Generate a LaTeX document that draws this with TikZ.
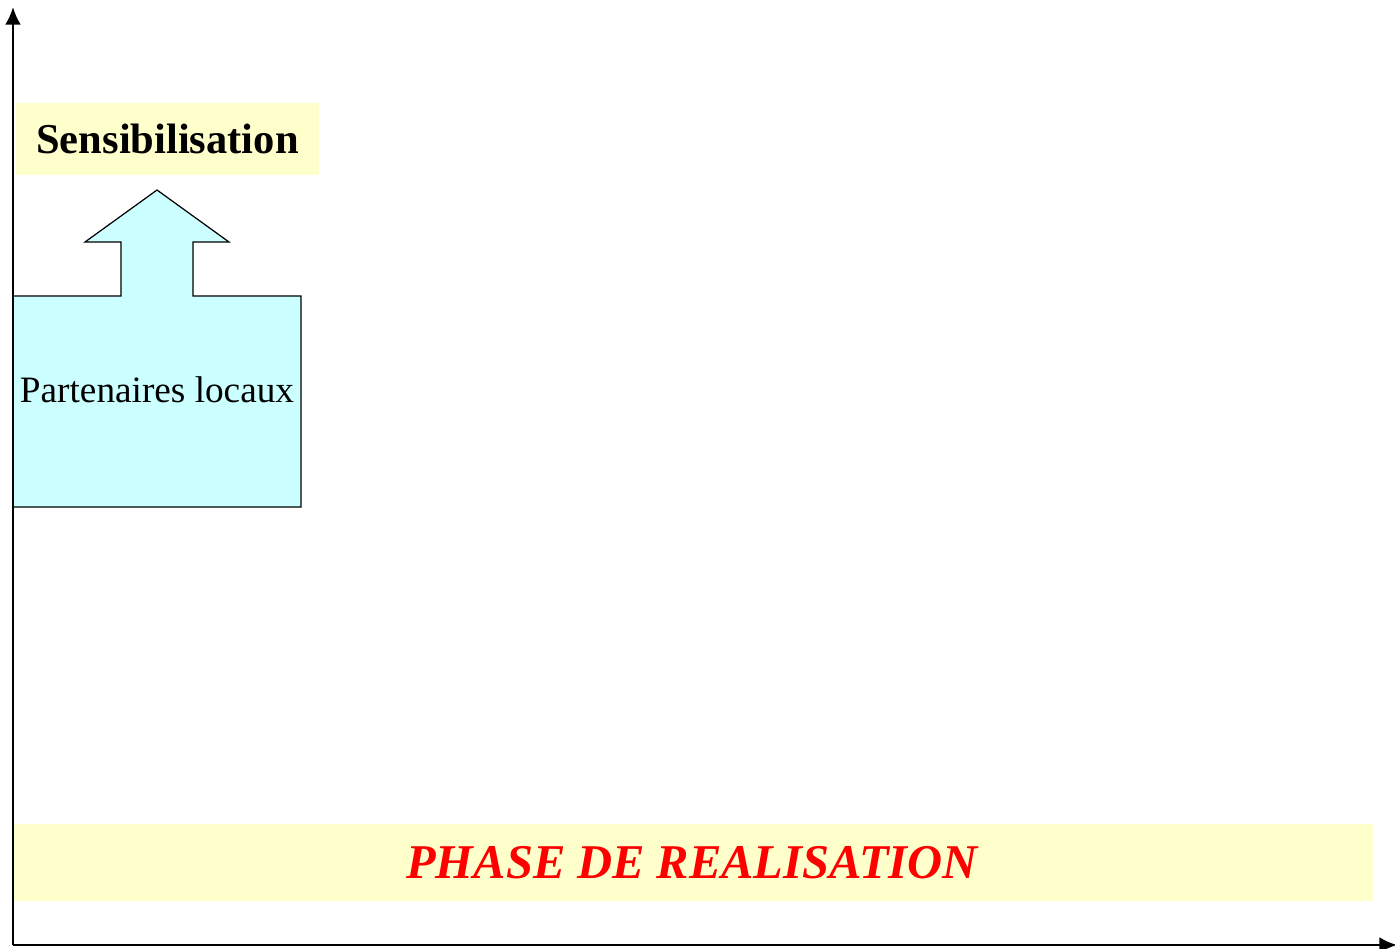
\documentclass[tikz,border=0pt]{standalone}
\usepackage{fontspec}
\setmainfont{Liberation Serif}
\usetikzlibrary{arrows.meta}
\definecolor{paleyellow}{HTML}{FFFFCC}
\definecolor{palecyan}{HTML}{CCFFFF}
\definecolor{phasered}{HTML}{FF0000}
\begin{document}
\begin{tikzpicture}[x=0.02cm,y=-0.02cm,
	band/.style={fill=paleyellow,inner sep=0pt},
	axis/.style={line width=1.4pt,-{Latex[length=10pt,width=9pt]}}]
	\useasboundingbox (0,0) rectangle (1395,948);
	\coordinate (origin) at (13,945);
	\coordinate (ytop) at (13,7);
	\coordinate (xend) at (1397,945);
	\node[band,minimum width=303*0.02cm,minimum height=72*0.02cm] (sensi) at (167.5,139) {\fontsize{24.2}{28}\selectfont\bfseries Sensibilisation};
	\node[band,minimum width=1360*0.02cm,minimum height=77*0.02cm] (phase) at (693,862.5) {};
	\node[text=phasered] (phasetxt) at (692,863) {\fontsize{27.6}{32}\selectfont\bfseries\itshape PHASE DE REALISATION};
	\filldraw[fill=palecyan,draw=black,line width=0.7pt]
		(13,507) -- (13,296) -- (121,296) -- (121,242) -- (85,242) -- (157,190)
		-- (229,242) -- (193,242) -- (193,296) -- (301,296) -- (301,507) -- cycle;
	\node (partners) at (157,390) {\fontsize{21.2}{25}\selectfont Partenaires locaux};
	\draw[axis] (origin) -- (ytop);
	\draw[axis] (origin) -- (xend);
\end{tikzpicture}
\end{document}
